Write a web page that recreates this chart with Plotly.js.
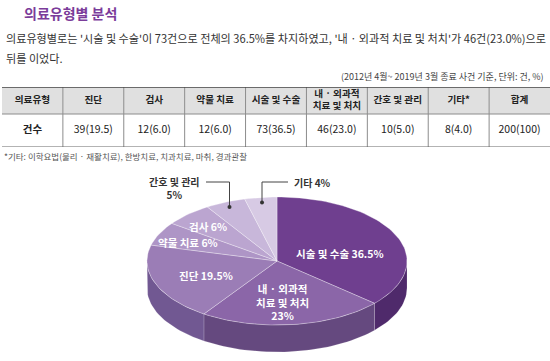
<!DOCTYPE html>
<html><head><meta charset="utf-8">
<script src="https://cdn.plot.ly/plotly-3.0.1.min.js"></script>
<style>html,body{margin:0;padding:0;background:#fff}#chart{width:550px;height:361px}</style>
</head><body><div id="chart"></div>
<script>
// ---- data ----
const tableCategories = ['진단','검사','약물 치료','시술 및 수술','내 · 외과적<br>치료 및 처치','간호 및 관리','기타*'];
const tableCounts = [39,12,12,73,46,10,8];
const tableShares = [19.5,6.0,6.0,36.5,23.0,5.0,4.0];
const totalCount = 200;
const totalShare = 100;

const pieCategories = ['시술 및 수술','내 · 외과적 치료 및 처치','진단','약물 치료','검사','간호 및 관리','기타'];
const pieValues = [36.5,23,19.5,6,6,5,4];
const pieLabels = ['시술 및 수술 36.5%','내 · 외과적<br>치료 및 처치<br>23%','진단 19.5%','약물 치료 6%','검사 6%','간호 및 관리<br>5%','기타 4%'];

// ---- style ----
const KR = '"Noto Sans CJK KR", "Noto Sans", sans-serif';
const topColors = ['#6f3f8f','#8b66a8','#9b7db6','#ae95c6','#bba5d0','#c8b7da','#d7cae4'];
const sideColors = ['#4f2a6b','#65497f','#715892','#7d67a0','#85709f','#8f7aa8','#9a88b0'];
const W = 550, H = 361;
const P = (x,y) => ({x: x/W, y: 1 - y/H});

const traces = [];
const shapes = [];

// ---- table drawn on its own axes (x2/y2): columns 0..9, rows in px units (header 0-27, data 27-60) ----
const headerTexts = ['<b>의료유형</b>'].concat(tableCategories.map(c => '<b>'+c+'</b>'), ['<b>합계</b>']);
const rowTexts = ['<b>건수</b>'].concat(
  tableCounts.map((c,i) => c + '(' + tableShares[i].toFixed(1) + ')'),
  [totalCount + '(' + totalShare + ')']
);
const nCols = headerTexts.length;
const colCenters = headerTexts.map((_,i) => i + 0.5);
const headerH = 27, rowH = 33;
traces.push({type:'bar', x: colCenters, y: colCenters.map(()=>headerH), base: 0, width: 1,
  marker:{color:'#e0e0e0', line:{width:0}}, xaxis:'x2', yaxis:'y2', hoverinfo:'skip'});
traces.push({type:'scatter', mode:'text', x: colCenters, y: colCenters.map(()=>headerH/2 + 0.3),
  text: headerTexts, textposition:'middle center', textfont:{family:KR, size:9.6, color:'#222'},
  xaxis:'x2', yaxis:'y2', hoverinfo:'skip', cliponaxis:false});
traces.push({type:'scatter', mode:'text', x: colCenters, y: colCenters.map(()=>headerH + rowH/2),
  text: rowTexts, textposition:'middle center', textfont:{family:KR, size:10.5, color:'#222'},
  xaxis:'x2', yaxis:'y2', hoverinfo:'skip', cliponaxis:false});
for (let k = 1; k < nCols; k++) {
  shapes.push({type:'line', xref:'x2', yref:'y2', x0:k, x1:k, y0:0, y1:headerH+rowH, line:{color:'#8c8c8c', width:1}});
}
shapes.push({type:'line', xref:'x2', yref:'y2', x0:0, x1:nCols, y0:headerH, y1:headerH, line:{color:'#8c8c8c', width:1}});
shapes.push({type:'line', xref:'x2', yref:'y2', x0:0, x1:nCols, y0:0, y1:0, line:{color:'#444', width:1.5}});
shapes.push({type:'line', xref:'x2', yref:'y2', x0:0, x1:nCols, y0:headerH+rowH, y1:headerH+rowH, line:{color:'#666', width:1}});

// ---- 3D-like pie built from values ----
const cx = 277, cy = 261, rx = 130, ry = 64, depth = 27;
function pt(th, r, dy){ const a = th*Math.PI/180; return [cx + rx*r*Math.sin(a), cy - ry*r*Math.cos(a) + (dy||0)]; }
const sum = pieValues.reduce((a,b)=>a+b,0);
const angles = []; let acc = 0;
pieValues.forEach(v => { const a0 = acc/sum*360; acc += v; angles.push([a0, acc/sum*360]); });

function arc(a0, a1, dy){ const xs=[], ys=[]; const n = Math.max(4, Math.ceil((a1-a0)/2));
  for(let k=0;k<=n;k++){ const p = pt(a0+(a1-a0)*k/n, 1, dy); xs.push(p[0]); ys.push(p[1]); } return [xs, ys]; }

// sides
angles.forEach((ab,i) => {
  const s0 = Math.max(ab[0], 90), s1 = Math.min(ab[1], 270);
  if (s1 > s0) {
    const t = arc(s0, s1, 0), b = arc(s0, s1, depth);
    traces.push({type:'scatter', mode:'lines', x: t[0].concat(b[0].slice().reverse(), [t[0][0]]),
      y: t[1].concat(b[1].slice().reverse(), [t[1][0]]), fill:'toself', fillcolor: sideColors[i],
      line:{color:'rgba(255,255,255,0.25)', width:0.6}, hoverinfo:'skip', name: pieCategories[i]});
  }
});
// tops
angles.forEach((ab,i) => {
  const a = arc(ab[0], ab[1], 0);
  traces.push({type:'scatter', mode:'lines', x:[cx].concat(a[0],[cx]), y:[cy].concat(a[1],[cy]),
    fill:'toself', fillcolor: topColors[i], line:{color:'rgba(255,255,255,0.45)', width:0.7},
    hoverinfo:'skip', name: pieCategories[i]});
});

// leader lines for small outer labels (간호 및 관리, 기타)
const leaderY = 182;
const outer = [{i:5, endX:206}, {i:6, endX:288}];
outer.forEach(o => {
  const mid = (angles[o.i][0]+angles[o.i][1])/2;
  const d = pt(mid, 0.92, 0);
  traces.push({type:'scatter', mode:'lines', x:[d[0], d[0], o.endX], y:[d[1], leaderY, leaderY],
    line:{color:'#444', width:1}, hoverinfo:'skip'});
  traces.push({type:'scatter', mode:'markers', x:[d[0]], y:[d[1]], marker:{color:'#333', size:4}, hoverinfo:'skip'});
});

const white = {family:KR, size:10.5, color:'#ffffff'};
const ann = [
  // header texts
  Object.assign(P(22,13), {text:'<b>의료유형별 분석</b>', xanchor:'left', font:{family:KR, size:14, color:'#7b3c9a'}}),
  Object.assign(P(4,38), {text:"의료유형별로는 '시술 및 수술'이 73건으로 전체의 36.5%를 차지하였고, '내 · 외과적 치료 및 처치'가 46건(23.0%)으로", xanchor:'left', font:{family:KR, size:11.1, color:'#333'}}),
  Object.assign(P(4,58), {text:'뒤를 이었다.', xanchor:'left', font:{family:KR, size:11.1, color:'#333'}}),
  Object.assign(P(546,77), {text:'(2012년 4월~ 2019년 3월 종료 사건 기준, 단위: 건, %)', xanchor:'right', font:{family:KR, size:9, color:'#444'}}),
  Object.assign(P(2,156), {text:'*기타: 이학요법(물리 · 재활치료), 한방치료, 치과치료, 마취, 경과관찰', xanchor:'left', font:{family:KR, size:8.5, color:'#555'}}),
  // pie labels
  {xref:'x', yref:'y', x:340, y:253, text:'<b>'+pieLabels[0]+'</b>', font:white},
  {xref:'x', yref:'y', x:282, y:302, text:'<b>'+pieLabels[1]+'</b>', font:white},
  {xref:'x', yref:'y', x:206, y:275, text:'<b>'+pieLabels[2]+'</b>', font:white},
  {xref:'x', yref:'y', x:188, y:242, text:'<b>'+pieLabels[3]+'</b>', font:white},
  {xref:'x', yref:'y', x:208, y:226, text:'<b>'+pieLabels[4]+'</b>', font:white},
  {xref:'x', yref:'y', x:174, y:188, text:'<b>'+pieLabels[5]+'</b>', font:{family:KR, size:10, color:'#333'}},
  {xref:'x', yref:'y', x:292, y:182, xanchor:'left', text:'<b>'+pieLabels[6]+'</b>', font:{family:KR, size:10, color:'#333'}}
].map(a => Object.assign({xref:'paper', yref:'paper', showarrow:false, yanchor:'middle', align:'center'}, a));

const layout = {
  width: W, height: H, margin:{l:0,r:0,t:0,b:0}, showlegend:false,
  paper_bgcolor:'#fff', plot_bgcolor:'rgba(0,0,0,0)',
  xaxis:{range:[0,550], visible:false, fixedrange:true},
  yaxis:{range:[361,165], domain:[0,196/361], visible:false, fixedrange:true},
  xaxis2:{range:[0,nCols], domain:[2/W,1], anchor:'y2', visible:false, fixedrange:true},
  yaxis2:{range:[headerH+rowH,0], domain:[1-147/H, 1-87/H], anchor:'x2', visible:false, fixedrange:true},
  annotations: ann,
  shapes: shapes
};
Plotly.newPlot('chart', traces, layout, {staticPlot:true, displayModeBar:false});
</script></body></html>
